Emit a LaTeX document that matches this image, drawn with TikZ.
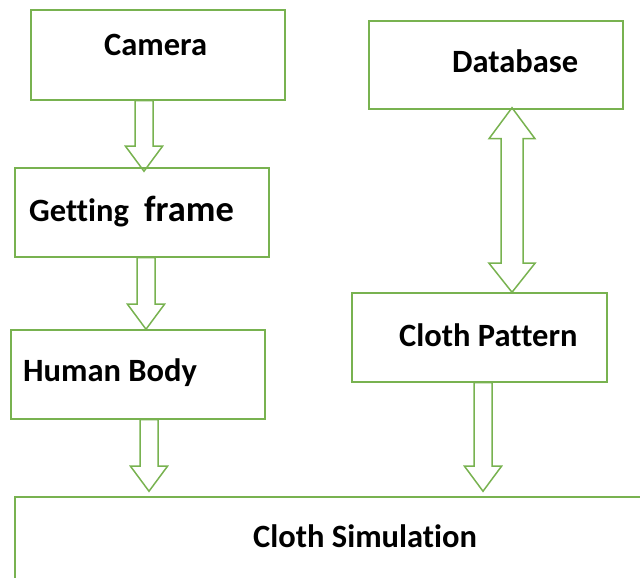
\documentclass[tikz,border=0pt]{standalone}
\usepackage{fontspec}
\setmainfont{Carlito}[Ligatures=CommonOff]
\usetikzlibrary{calc}
\definecolor{og}{RGB}{120,178,80}
\newcommand\dnarrow[4]{%
\draw[barrow] let \p1=(#2), \p2=(#3) in
 (#1pt-9pt,\y1) -- (#1pt+9pt,\y1) -- (#1pt+9pt,\y2+#4pt+25pt) -- (#1pt+18.5pt,\y2+#4pt+25pt)
 -- (#1pt,\y2+#4pt) -- (#1pt-18.5pt,\y2+#4pt+25pt) -- (#1pt-9pt,\y2+#4pt+25pt) -- cycle;}
\begin{document}
\begin{tikzpicture}[x=1pt,y=1pt,
 box/.style={draw=og, line width=1.5pt, rectangle, inner sep=0pt},
 lbl/.style={font=\fontsize{32.5}{36}\selectfont\bfseries, anchor=base west, inner sep=0pt},
 barrow/.style={draw=og, line width=1.5pt, line join=miter}]
\useasboundingbox (0,0) rectangle (640,578);
\clip (0,0) rectangle (640,578);
\node[box, minimum width=254pt, minimum height=90pt] (cam) at (158,523) {};
\node[box, minimum width=254pt, minimum height=89pt] (gf) at (142,365.5) {};
\node[box, minimum width=254pt, minimum height=89pt] (hb) at (138,203.5) {};
\node[box, minimum width=254pt, minimum height=88pt] (db) at (496,513) {};
\node[box, minimum width=255pt, minimum height=89pt] (cp) at (479.5,240.5) {};
\node[box, minimum width=645pt, minimum height=101pt] (cs) at (337.5,30.5) {};
\node[lbl] (tcam) at (104,522) {Camera};
\node[lbl] (tgf1) at (29,356) {Getting};
\node[lbl, font=\fontsize{36.5}{40}\selectfont\bfseries] (tgf2) at (144,356) {frame};
\node[lbl] (thb) at (23,196) {Human Body};
\node[lbl] (tdb) at (452,505) {Database};
\node[lbl] (tcp) at (399,231) {Cloth Pattern};
\node[lbl] (tcs) at (253,30) {Cloth Simulation};
\dnarrow{144}{cam.south}{gf.north}{-4}
\dnarrow{146}{gf.south}{hb.north}{0}
\dnarrow{149}{hb.south}{cs.north}{5}
\dnarrow{483}{cp.south}{cs.north}{5}
\draw[barrow] let \p1=(db.south), \p2=(cp.north) in
 (512pt,\y1+2pt) -- (535pt,\y1-29pt) -- (523pt,\y1-29pt) -- (523pt,\y2+29pt) -- (535pt,\y2+29pt)
 -- (512pt,\y2) -- (489pt,\y2+29pt) -- (501pt,\y2+29pt) -- (501pt,\y1-29pt) -- (489pt,\y1-29pt) -- cycle;
\end{tikzpicture}
\end{document}
